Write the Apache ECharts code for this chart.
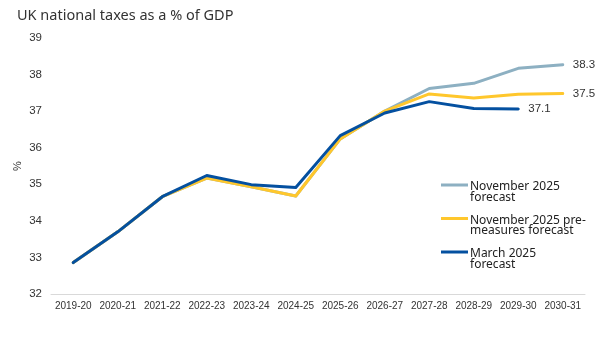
<!DOCTYPE html>
<html>
<head>
<meta charset="utf-8">
<script src="https://cdn.jsdelivr.net/npm/echarts@6/dist/echarts.min.js"></script>
<style>
  html, body { margin: 0; padding: 0; background: #fff; }
  #chart { width: 602px; height: 363px; }
</style>
</head>
<body>
<div id="chart"></div>
<script>
const years = ['2019-20','2020-21','2021-22','2022-23','2023-24','2024-25','2025-26','2026-27','2027-28','2028-29','2029-30','2030-31'];
const nov2025 = [32.86, 33.70, 34.66, 35.17, 34.93, 34.68, 36.24, 37.00, 37.62, 37.76, 38.17, 38.27];
const nov2025PreMeasures = [32.86, 33.70, 34.66, 35.17, 34.93, 34.68, 36.24, 37.00, 37.47, 37.36, 37.46, 37.48];
const mar2025 = [32.86, 33.70, 34.66, 35.24, 34.99, 34.91, 36.33, 36.95, 37.26, 37.07, 37.06];
const seriesNames = ['November 2025\nforecast', 'November 2025 pre-\nmeasures forecast', 'March 2025\nforecast'];
const yTicks = [32, 33, 34, 35, 36, 37, 38, 39];

const colors = ['#8DB0C2', '#FFC72C', '#0450A0'];
const legendIcon = 'path://M0,4.5 H27 V7.5 H0 Z M13,21.9 H13.1 V22 H13 Z';

function mkSeries(name, data, color, z) {
  return {
    name: name,
    type: 'line',
    data: data,
    z: z,
    symbol: 'none',
    showSymbol: false,
    smooth: false,
    lineStyle: { color: color, width: 3, cap: 'round', join: 'round' },
    itemStyle: { color: color },
    endLabel: {
      show: true,
      distance: 10,
      color: '#333',
      fontFamily: 'Liberation Sans',
      fontSize: 11.5,
      formatter: p => Number(p.value).toFixed(1)
    },
    emphasis: { disabled: true },
    animation: false
  };
}

const chart = echarts.init(document.getElementById('chart'), null, { renderer: 'canvas' });
chart.setOption({
  animation: false,
  backgroundColor: '#fff',
  title: {
    text: 'UK national taxes as a % of GDP',
    left: 12,
    top: 3,
    textStyle: { fontFamily: 'Noto Sans', fontSize: 14.5, fontWeight: 'normal', color: '#333' }
  },
  grid: { left: 51, right: 17, top: 38, bottom: 69, containLabel: false },
  legend: {
    orient: 'vertical',
    left: 441,
    top: 181,
    padding: 0,
    itemWidth: 27,
    itemHeight: 22,
    itemGap: 11,
    icon: legendIcon,
    selectedMode: false,
    textStyle: { fontFamily: 'Noto Sans', fontSize: 12, color: '#222', lineHeight: 10.5, padding: [0, 0, 0, -3] },
    data: seriesNames.map((n, i) => ({ name: n, itemStyle: { color: colors[i] } }))
  },
  xAxis: {
    type: 'category',
    data: years,
    boundaryGap: true,
    axisLine: { show: true, lineStyle: { color: '#d9d9d9', width: 1 } },
    axisTick: { show: false },
    axisLabel: { color: '#333', fontFamily: 'Liberation Sans', fontSize: 10, margin: 7, interval: 0 }
  },
  yAxis: {
    type: 'value',
    min: yTicks[0],
    max: yTicks[yTicks.length - 1],
    interval: 1,
    name: '%',
    nameLocation: 'middle',
    nameRotate: 90,
    nameGap: 28,
    nameMoveOverlap: false,
    nameTextStyle: { color: '#333', fontFamily: 'Liberation Sans', fontSize: 11 },
    axisLine: { show: false },
    axisTick: { show: false },
    splitLine: { show: false },
    axisLabel: { color: '#333', fontFamily: 'Liberation Sans', fontSize: 11.5, margin: 9 }
  },
  series: [
    mkSeries(seriesNames[0], nov2025, colors[0], 1),
    mkSeries(seriesNames[1], nov2025PreMeasures, colors[1], 2),
    mkSeries(seriesNames[2], mar2025, colors[2], 3)
  ]
});
</script>
</body>
</html>
